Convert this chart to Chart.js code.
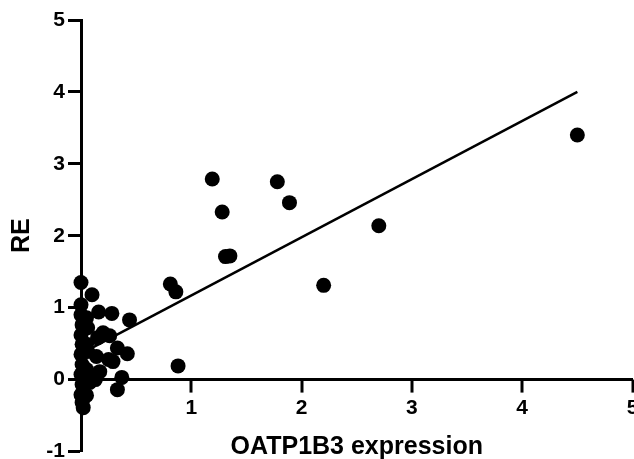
<!DOCTYPE html>
<html>
<head>
<meta charset="utf-8">
<script src="https://cdn.jsdelivr.net/npm/chart.js@4.4.1/dist/chart.umd.min.js"></script>
<style>
  html, body { margin: 0; padding: 0; background: #fff; overflow: hidden; }
  #wrap { width: 640px; height: 459px; }
</style>
</head>
<body>
<div id="wrap"><canvas id="myChart"></canvas></div>
<script>
// OATP1B3 expression vs RE
const expr = [4.50, 2.70, 2.20, 1.89, 1.78, 1.19, 1.28, 1.31, 1.35, 0.81, 0.86, 0.88,
  0.00, 0.10, 0.16, 0.28, 0.44, 0.20, 0.26, 0.15, 0.33, 0.42, 0.29, 0.14, 0.25,
  0.17, 0.13, 0.37, 0.33, 0.08, 0.06,
  0.00, 0.00, 0.01, 0.00, 0.01, 0.00, 0.01, 0.00, 0.01, 0.00, 0.01, 0.02, 0.05,
  0.05, 0.05, 0.05, 0.06];
const re = [3.40, 2.14, 1.31, 2.46, 2.75, 2.79, 2.33, 1.71, 1.72, 1.33, 1.22, 0.19,
  1.35, 1.18, 0.94, 0.92, 0.83, 0.65, 0.61, 0.58, 0.44, 0.36, 0.25, 0.32, 0.28,
  0.11, 0.00, 0.03, -0.14, -0.04, 0.72,
  1.04, 0.90, 0.76, 0.62, 0.49, 0.35, 0.21, 0.07, -0.07, -0.21, -0.32, -0.39, -0.22,
  0.86, 0.49, 0.14, 0.39];

// regression line ends
const fitX = [0, 4.5];
const fitY = [0.36, 4.0];

const yTicks = [-1, 0, 1, 2, 3, 4, 5];
const xTicks = [0, 1, 2, 3, 4, 5];

const points = expr.map((x, i) => ({x: x, y: re[i]}));
const fitLine = fitX.map((x, i) => ({x: x, y: fitY[i]}));

const fontFam = "'Liberation Sans', Arial, Helvetica, sans-serif";

// x axis sits at y=0; re-place its labels once y is final and draw its tick marks
const xAxisAtZero = {
  id: "xAxisAtZero",
  beforeDraw(chart) {
    chart.scales.x._labelItems = null;
    chart.scales.x._gridLineItems = null;
  },
  afterDraw(chart) {
    const xs = chart.scales.x, ys = chart.scales.y;
    const y0 = ys.getPixelForValue(0);
    const ctx = chart.ctx;
    ctx.save();
    ctx.strokeStyle = "#000";
    ctx.lineWidth = 3;
    xTicks.forEach(v => {
      const px = Math.round(xs.getPixelForValue(v));
      ctx.beginPath();
      ctx.moveTo(px, y0);
      ctx.lineTo(px, y0 + 13);
      ctx.stroke();
    });
    ctx.restore();
  }
};

new Chart("myChart", {
  type: "scatter",
  data: {
    datasets: [{
      label: "RE",
      data: points,
      backgroundColor: "#000",
      borderColor: "#000",
      borderWidth: 0,
      pointRadius: 7.5,
      pointHoverRadius: 7.5,
      clip: false
    }, {
      type: "line",
      label: "fit",
      data: fitLine,
      borderColor: "#000",
      borderWidth: 2.5,
      pointRadius: 0,
      fill: false,
      clip: false
    }]
  },
  options: {
    responsive: true,
    maintainAspectRatio: false,
    animation: false,
    layout: { padding: { top: 20, bottom: 5, left: 0, right: 2 } },
    plugins: {
      legend: { display: false },
      tooltip: { enabled: false }
    },
    scales: {
      x: {
        type: "linear",
        min: 0,
        max: 5,
        position: { y: 0 },
        afterFit: function(s) { s.paddingRight = 0; s.paddingLeft = 0; },
        afterBuildTicks: function(s) { s.ticks = xTicks.map(v => ({value: v})); },
        grid: {
          drawOnChartArea: false,
          drawTicks: true,
          tickLength: 12,
          tickWidth: 3,
          tickColor: "rgba(0,0,0,0)"
        },
        border: { display: true, width: 3, color: "#000" },
        ticks: {
          color: "#000",
          padding: 4,
          maxRotation: 0,
          font: { family: fontFam, size: 21, weight: "bold" },
          callback: function(v) { return v === 0 ? "" : v; }
        },
        title: {
          display: true,
          text: "OATP1B3 expression",
          color: "#000",
          padding: { top: 7, bottom: 0 },
          font: { family: fontFam, size: 25, weight: "bold" }
        }
      },
      y: {
        type: "linear",
        min: -1,
        max: 5,
        afterFit: function(s) { s.width = 81; s.paddingBottom = 0; s.paddingTop = 0; },
        afterBuildTicks: function(s) { s.ticks = yTicks.map(v => ({value: v})); },
        grid: {
          drawOnChartArea: false,
          drawTicks: true,
          tickLength: 13,
          tickWidth: 3,
          tickColor: "#000"
        },
        border: { display: true, width: 3, color: "#000" },
        ticks: {
          color: "#000",
          padding: 3,
          font: { family: fontFam, size: 21, weight: "bold" }
        },
        title: {
          display: true,
          text: "RE",
          color: "#000",
          padding: { top: 7, bottom: 0 },
          font: { family: fontFam, size: 25, weight: "bold" }
        }
      }
    }
  },
  plugins: [xAxisAtZero]
});
</script>
</body>
</html>
